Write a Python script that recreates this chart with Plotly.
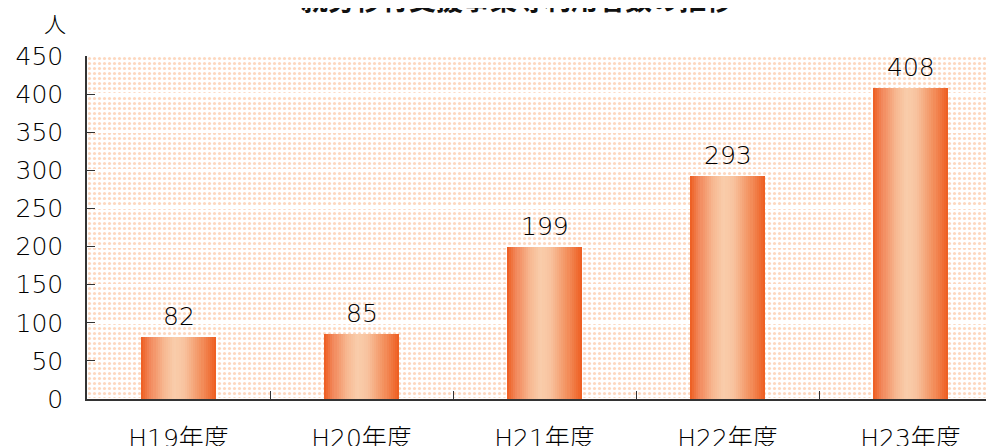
import plotly.graph_objects as go

# ---- data ----
categories = ["H19年度", "H20年度", "H21年度", "H22年度", "H23年度"]
values = [82, 85, 199, 293, 408]
y_ticks = [0, 50, 100, 150, 200, 250, 300, 350, 400, 450]
title_text = "就労移行支援事業等利用者数の推移"
unit_text = "人"

FONT = "DejaVu Sans, Noto Sans CJK JP"
BAR_W = 0.41
N_SLICES = 36

def hex2rgb(h):
    h = h.lstrip("#")
    return [int(h[i:i + 2], 16) for i in (0, 2, 4)]

stops = [(0.0, "#ee5c1f"), (0.12, "#f2875a"), (0.30, "#f7b790"),
         (0.45, "#f9cdab"), (0.58, "#f8c29e"), (0.80, "#f3915f"), (1.0, "#ee5c1f")]

def grad(t):
    for (t0, c0), (t1, c1) in zip(stops[:-1], stops[1:]):
        if t0 <= t <= t1:
            f = (t - t0) / (t1 - t0) if t1 > t0 else 0
            a, b = hex2rgb(c0), hex2rgb(c1)
            return "rgb(%d,%d,%d)" % tuple(round(a[k] + (b[k] - a[k]) * f) for k in range(3))
    return stops[-1][1]

fig = go.Figure()

# dotted background with white grid lines (stacked bands)
fig.add_trace(go.Bar(
    x=[categories[2]] * (len(y_ticks) - 1),
    y=[y_ticks[i + 1] - y_ticks[i] for i in range(len(y_ticks) - 1)],
    base=y_ticks[:-1],
    width=len(categories),
    marker=dict(color="white",
                line=dict(color="white", width=2),
                pattern=dict(shape=".", fgcolor="#fdd8bf", bgcolor="white",
                             size=5, solidity=0.3, fillmode="replace")),
    hoverinfo="skip", showlegend=False,
))

# gradient bars built from slices
for i in range(N_SLICES):
    start = -BAR_W / 2 + i * BAR_W / N_SLICES
    fig.add_trace(go.Bar(
        x=categories, y=values,
        width=BAR_W / 2 - start,
        offset=start,
        marker=dict(color=grad((i + 0.5) / N_SLICES), line=dict(width=0)),
        hoverinfo="skip", showlegend=False,
    ))

# value labels
for c, v in zip(categories, values):
    fig.add_annotation(x=c, y=v, text=str(v), showarrow=False,
                       yanchor="bottom", yshift=4,
                       font=dict(family=FONT, size=25, color="#000", weight=300))

fig.add_annotation(text=f"<b>{title_text}</b>", xref="paper", yref="paper",
                   x=0.474, y=1.105, xanchor="center", yanchor="bottom",
                   showarrow=False, font=dict(family="Noto Sans CJK JP", size=27, color="#111"))
fig.add_annotation(text=unit_text, xref="paper", yref="paper",
                   x=-0.035, y=1.099, xanchor="center", yanchor="middle",
                   showarrow=False, font=dict(family="Noto Sans CJK JP", size=22, color="#000", weight=300))

# page body has an 8px margin: figure is shifted accordingly
fig.update_layout(
    width=986, height=438,
    margin=dict(l=79, r=0, t=48, b=47),
    barmode="overlay", bargap=0,
    paper_bgcolor="white", plot_bgcolor="white",
    font=dict(family=FONT, size=25, color="#000", weight=300),
)
fig.update_xaxes(
    type="category", categoryorder="array", categoryarray=categories,
    range=[-0.5, 4.456], automargin=False,
    showgrid=False, showline=True, linecolor="#333", linewidth=1.5,
    ticks="inside", ticklen=8, tickcolor="#333", tickson="boundaries",
    ticklabelstandoff=16, tickfont=dict(size=25, weight=300),
)
fig.update_yaxes(
    range=[0, 450], tickvals=y_ticks, showgrid=False, zeroline=False,
    automargin=False,
    showline=True, linecolor="#333", linewidth=1.5,
    ticks="inside", ticklen=8, tickcolor="#333",
    ticklabelstandoff=17, tickfont=dict(size=25, weight=300),
)

fig.write_html("out.html")
